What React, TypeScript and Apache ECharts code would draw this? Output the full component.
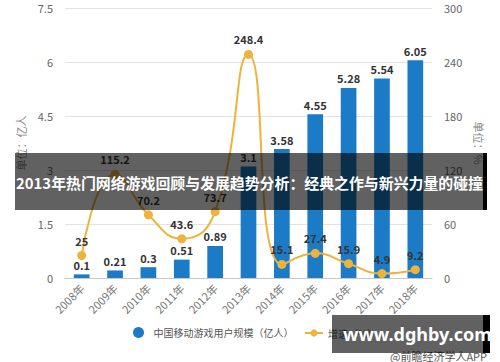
import React, { useEffect, useRef } from "react";
import * as echarts from "echarts";

const categories = ["2008年", "2009年", "2010年", "2011年", "2012年", "2013年", "2014年", "2015年", "2016年", "2017年", "2018年"];
const userScale = [0.1, 0.21, 0.3, 0.51, 0.89, 3.1, 3.58, 4.55, 5.28, 5.54, 6.05];
const growthRate = [25, 115.2, 70.2, 43.6, 73.7, 248.4, 15.1, 27.4, 15.9, 4.9, 9.2];
const barName = "中国移动游戏用户规模（亿人）";
const lineName = "增速（%）";
const bannerTitle = "2013年热门网络游戏回顾与发展趋势分析：经典之作与新兴力量的碰撞";
const bannerSite = "www.dghby.com";
const sourceText = "@前瞻经济学人APP";

const FONT = "'Noto Sans CJK SC', 'Noto Sans', sans-serif";

export default function App() {
  const ref = useRef<HTMLDivElement>(null);
  useEffect(() => {
    if (!ref.current) return;
    const chart = echarts.init(ref.current, undefined, { renderer: "svg" });
    const legendText = { color: "#555", fontSize: 10, fontFamily: FONT };
    chart.setOption({
      animation: false,
      backgroundColor: "#ffffff",
      textStyle: { fontFamily: FONT },
      grid: { left: 65, right: 68, top: 8, bottom: 84 },
      legend: [
        {
          bottom: 19,
          left: 128,
          itemWidth: 20,
          itemHeight: 11,
          textStyle: legendText,
          data: [{ name: barName, icon: "circle" }],
        },
        {
          bottom: 19,
          left: 299,
          itemWidth: 18,
          itemHeight: 9,
          textStyle: legendText,
          data: [{ name: lineName }],
        },
      ],
      xAxis: {
        type: "category",
        data: categories,
        axisLine: { lineStyle: { color: "#c8c8c8" } },
        axisTick: { alignWithLabel: true, lineStyle: { color: "#c8c8c8" } },
        axisLabel: { rotate: 45, color: "#777", fontSize: 11, margin: 8 },
      },
      yAxis: [
        {
          type: "value",
          min: 0,
          max: 7.5,
          interval: 1.5,
          name: "单位：亿人",
          nameLocation: "middle",
          nameGap: 38,
          nameTextStyle: { color: "#888", fontSize: 11 },
          axisLine: { show: false },
          axisTick: { show: false },
          axisLabel: { color: "#666", fontSize: 11, margin: 12 },
          splitLine: { lineStyle: { color: "#e3e3e3" } },
        },
        {
          type: "value",
          min: 0,
          max: 300,
          interval: 60,
          name: "单位：%",
          nameLocation: "middle",
          nameGap: 40,
          nameRotate: -90,
          nameTextStyle: { color: "#888", fontSize: 11 },
          axisLine: { show: false },
          axisTick: { show: false },
          axisLabel: { color: "#666", fontSize: 11, margin: 12 },
          splitLine: { show: false },
        },
      ],
      series: [
        {
          name: barName,
          type: "bar",
          data: userScale,
          barWidth: "47%",
          itemStyle: { color: "#1c7bc6" },
          label: {
            show: true,
            position: "top",
            color: "#333",
            fontWeight: "bold",
            fontSize: 11,
            distance: 4,
          },
        },
        {
          name: lineName,
          type: "line",
          yAxisIndex: 1,
          data: growthRate,
          smooth: true,
          symbol: "circle",
          symbolSize: 9,
          lineStyle: { color: "#eeb33c", width: 2 },
          itemStyle: { color: "#eeb33c" },
          label: {
            show: true,
            position: "top",
            color: "#333",
            fontWeight: "bold",
            fontSize: 11,
            distance: 5,
          },
          z: 3,
        },
      ],
      graphic: [
        {
          type: "text",
          z: 90,
          x: 390,
          y: 350,
          style: { text: sourceText, fill: "#555", font: `11px ${FONT}` },
        },
        {
          type: "rect",
          z: 100,
          shape: { x: 15, y: 153, width: 468, height: 57 },
          style: { fill: "rgba(0,0,0,0.62)" },
        },
        {
          type: "rect",
          z: 100,
          shape: { x: 483, y: 153, width: 4, height: 57 },
          style: { fill: "#000" },
        },
        {
          type: "text",
          z: 101,
          x: 16,
          y: 182,
          style: {
            text: bannerTitle,
            fill: "#fff",
            font: `bold 14.9px ${FONT}`,
            textVerticalAlign: "middle",
            verticalAlign: "middle",
          },
        },
        {
          type: "rect",
          z: 100,
          shape: { x: 332, y: 315, width: 151, height: 38 },
          style: { fill: "rgba(0,0,0,0.62)" },
        },
        {
          type: "rect",
          z: 100,
          shape: { x: 483, y: 315, width: 7, height: 38 },
          style: { fill: "#000" },
        },
        {
          type: "text",
          z: 101,
          x: 343,
          y: 334,
          style: {
            text: bannerSite,
            fill: "#fff",
            font: `bold 18px 'Noto Sans', 'Open Sans', sans-serif`,
            textVerticalAlign: "middle",
            verticalAlign: "middle",
          },
        },
      ],
    });
    return () => chart.dispose();
  }, []);
  return <div ref={ref} style={{ width: 500, height: 362, position: "absolute", left: 0, top: 0 }} />;
}
